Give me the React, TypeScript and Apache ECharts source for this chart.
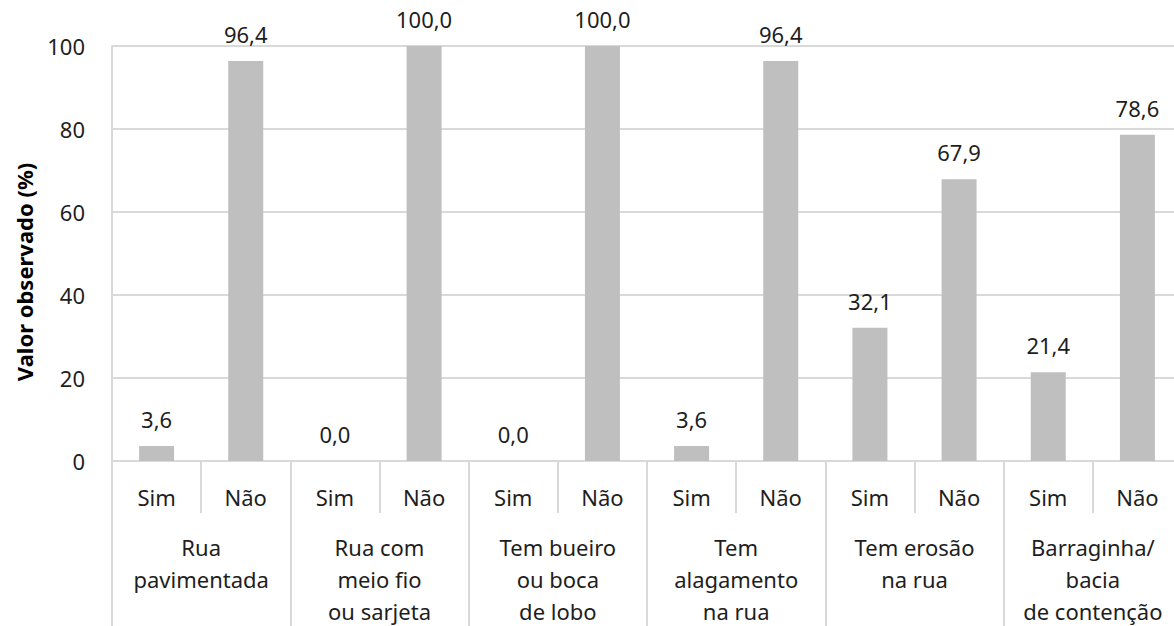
import React, { useEffect, useRef } from "react";
import * as echarts from "echarts";

const groups = [
  "Rua\npavimentada",
  "Rua com\nmeio fio\nou sarjeta",
  "Tem bueiro\nou boca\nde lobo",
  "Tem\nalagamento\nna rua",
  "Tem erosão\nna rua",
  "Barraginha/\nbacia\nde contenção",
];
const answers = ["Sim", "Não"];
const simValues = [3.6, 0.0, 0.0, 3.6, 32.1, 21.4];
const naoValues = [96.4, 100.0, 100.0, 96.4, 67.9, 78.6];
const yTicks = [0, 20, 40, 60, 80, 100];

const FONT = "'Noto Sans', sans-serif";
const TEXT = "#1e1e1e";
const GRID = "#d9d9d9";

export default function App() {
  const ref = useRef<HTMLDivElement>(null);
  useEffect(() => {
    if (!ref.current) return;
    const chart = echarts.init(ref.current, undefined, { renderer: "svg" });
    const subCats: string[] = [];
    const values: number[] = [];
    groups.forEach((_, i) => {
      subCats.push(answers[0]);
      values.push(simValues[i]);
      subCats.push(answers[1]);
      values.push(naoValues[i]);
    });
    chart.setOption({
      animation: false,
      textStyle: { fontFamily: FONT },
      grid: { left: 112, right: 18, top: 46, bottom: 179, containLabel: false },
      xAxis: [
        {
          type: "category",
          data: subCats,
          position: "bottom",
          axisLine: { show: true, lineStyle: { color: GRID, width: 2 } },
          axisTick: { show: true, interval: 0, length: 52, lineStyle: { color: GRID, width: 2 } },
          axisLabel: {
            interval: 0,
            color: TEXT,
            fontSize: 22,
            fontFamily: FONT,
            lineHeight: 33,
            margin: 19,
          },
        },
        {
          type: "category",
          data: groups,
          position: "bottom",
          axisLine: { show: false },
          axisTick: { show: true, interval: 0, length: 200, lineStyle: { color: GRID, width: 2 } },
          axisLabel: {
            interval: 0,
            color: TEXT,
            fontSize: 22,
            fontFamily: FONT,
            lineHeight: 32,
            margin: 70,
          },
        },
      ],
      yAxis: {
        type: "value",
        min: 0,
        max: yTicks[yTicks.length - 1],
        interval: yTicks[1] - yTicks[0],
        axisLine: { show: true, lineStyle: { color: GRID, width: 2 } },
        axisTick: { show: false },
        splitLine: { show: true, lineStyle: { color: GRID, width: 2 } },
        axisLabel: { color: TEXT, fontSize: 22, fontFamily: FONT, margin: 27 },
      },
      graphic: [
        {
          type: "text",
          x: 24,
          y: 272,
          rotation: Math.PI / 2,
          style: {
            text: "Valor observado (%)",
            font: `bold 22px ${FONT}`,
            fill: "#000",
            align: "center",
            verticalAlign: "middle",
          },
        },
      ],
      series: [
        {
          type: "bar",
          xAxisIndex: 0,
          data: values,
          barWidth: 35,
          itemStyle: { color: "#bfbfbf" },
          label: {
            show: true,
            position: "top",
            distance: 16,
            color: TEXT,
            fontSize: 22,
            fontFamily: FONT,
            formatter: (p: any) => Number(p.value).toFixed(1).replace(".", ","),
          },
        },
      ],
    });
    return () => chart.dispose();
  }, []);
  return (
    <div style={{ position: "absolute", left: 0, top: 0, width: 1174, height: 626, overflow: "hidden", background: "#fff" }}>
      <div ref={ref} style={{ width: 1200, height: 640 }} />
    </div>
  );
}
